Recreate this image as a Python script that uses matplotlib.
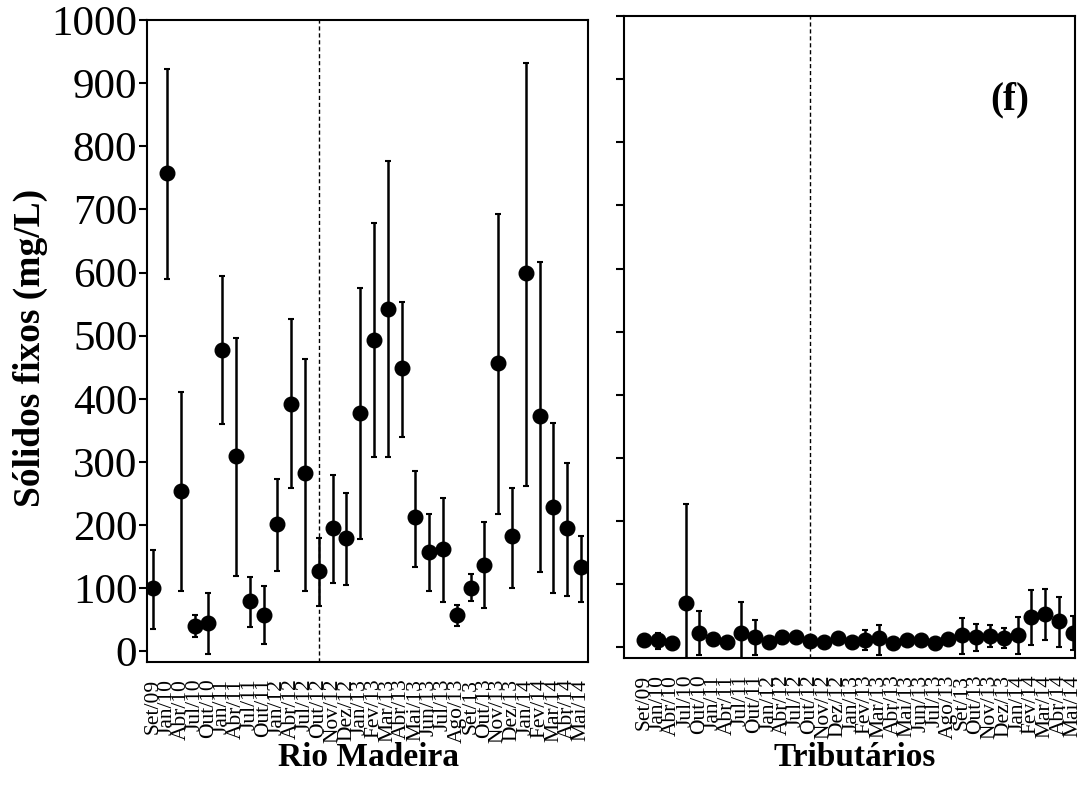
# --------------------------------------------------------------
# Sólidos fixos - Rio Madeira e tributários (média e intervalo)
# --------------------------------------------------------------
import numpy as np
import matplotlib.pyplot as plt

plt.rcParams['font.family'] = ['Liberation Serif', 'DejaVu Serif']

# --------------------------------------------------------------
# Dados
# --------------------------------------------------------------
meses = ["Set/09", "Jan/10", "Abr/10", "Jul/10", "Out/10", "Jan/11", "Abr/11", "Jul/11",
         "Out/11", "Jan/12", "Abr/12", "Jul/12", "Out/12", "Nov/12", "Dez/12", "Jan/13",
         "Fev/13", "Mar/13", "Abr/13", "Mai/13", "Jun/13", "Jul/13", "Ago/13", "Set/13",
         "Out/13", "Nov/13", "Dez/13", "Jan/14", "Fev/14", "Mar/14", "Abr/14", "Mai/14"]

# Rio Madeira
madeira_media = [101, 757, 254, 40, 45, 478, 310, 80, 58, 202, 392, 282, 127, 195, 180, 378,
                 493, 542, 448, 212, 157, 162, 57, 100, 137, 457, 182, 600, 372, 228, 195, 133]
madeira_sup = [160, 922, 410, 58, 93, 595, 497, 117, 104, 273, 527, 463, 180, 280, 250, 576,
               678, 777, 553, 285, 217, 243, 73, 122, 205, 692, 258, 932, 617, 362, 298, 182]
madeira_inf = [35, 590, 95, 22, -5, 360, 120, 38, 12, 127, 258, 96, 72, 108, 105, 178,
               308, 307, 340, 133, 95, 78, 40, 80, 68, 218, 100, 262, 125, 93, 88, 78]

# Tributários
trib_media = [11, 11, 7, 70, 23, 13, 8, 23, 16, 9, 16, 16, 10, 8, 14, 8,
              12, 14, 7, 12, 11, 7, 13, 20, 17, 18, 15, 20, 48, 52, 41, 22]
trib_sup = [15, 23, 10, 227, 57, 17, 11, 72, 43, 12, 26, 22, 17, 11, 20, 11,
            27, 36, 10, 20, 17, 10, 19, 47, 37, 36, 30, 48, 91, 93, 80, 49]
trib_inf = [7, -3, 4, -30, -12, 9, 5, -18, -12, 6, 5, 10, 3, 5, 8, 5,
            -4, -12, 4, 4, 5, 4, 7, -11, -6, 0, -1, -10, 4, 11, 0, -4]

# --------------------------------------------------------------
# Figura
# --------------------------------------------------------------
fig = plt.figure(figsize=(10.78, 7.98), dpi=100)
ax1 = fig.add_axes([0.1364, 0.1704, 0.409, 0.8045])
ax2 = fig.add_axes([0.5788, 0.1754, 0.4184, 0.8045])

x = np.arange(len(meses))
paineis = [
    (ax1, madeira_media, madeira_sup, madeira_inf, (-0.45, 31.5)),
    (ax2, trib_media, trib_sup, trib_inf, (-1.45, 31.15)),
]

for ax, media, sup, inf, xlim in paineis:
    media = np.array(media)
    erro = [media - np.array(inf), np.array(sup) - media]
    ax.errorbar(x, media, yerr=erro, fmt='o', color='black', ms=10.5,
                elinewidth=1.8, capsize=2.5, capthick=1.5, zorder=3)
    ax.axvline(12, color='black', lw=1, ls=(0, (3, 2)), zorder=1)

    ax.set_xlim(*xlim)
    ax.set_ylim(-17, 1000)
    ax.set_yticks(np.arange(0, 1001, 100))

    # rótulos em todos os meses, traços só em meses alternados
    ax.set_xticks(x)
    ax.set_xticklabels(meses, rotation=90, fontsize=15.5)
    ax.set_xticks(x[::2], minor=True)
    ax.tick_params(axis='x', which='major', length=0, pad=12)
    ax.tick_params(axis='x', which='minor', length=7, width=1.5, direction='out')
    ax.tick_params(axis='y', length=6, width=1.5, direction='out', labelsize=31, pad=1)

    for s in ax.spines.values():
        s.set_linewidth(1.5)

ax2.set_yticklabels([])

fig.text(30 / 1078, 1 - 348 / 798, "Sólidos fixos (mg/L)", rotation=90,
         ha='center', va='center', fontsize=27, fontweight='bold')
fig.text(368 / 1078, 1 - 757 / 798, "Rio Madeira", ha='center', va='center',
         fontsize=24, fontweight='bold')
fig.text(855 / 1078, 1 - 757 / 798, "Tributários", ha='center', va='center',
         fontsize=24, fontweight='bold')
fig.text(1010 / 1078, 1 - 100 / 798, "(f)", ha='center', va='center',
         fontsize=28, fontweight='bold')

fig.savefig("out.png", dpi=100)
